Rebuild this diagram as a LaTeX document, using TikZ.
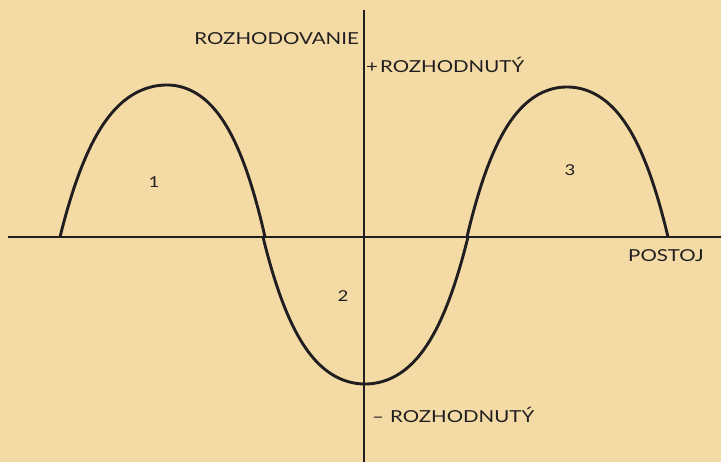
\documentclass[tikz,border=0pt]{standalone}
\usepackage{fontspec}
\setmainfont{Lato}[FakeStretch=1.24]
\usetikzlibrary{positioning}
\definecolor{paper}{RGB}{244,219,165}
\definecolor{ink}{RGB}{32,30,32}

\tikzset{
  axisline/.style={ink, line width=1.3pt},
  wave/.style={ink, line width=2.9pt, line join=round},
  axislabel/.style={font=\fontsize{16.5}{16.5}\selectfont, text=ink, inner sep=0pt},
  lobenum/.style={font=\fontsize{15}{15}\selectfont, text=ink, inner sep=0pt}
}
% lobe height profile, t in [-1,1]
\newcommand{\lobe}{(1-\x*\x)*(1+0.42*\x*\x)}

\begin{document}
\begin{tikzpicture}[x=1pt, y=-1pt]
          \fill[paper] (0,0) rectangle (721,462);
          \useasboundingbox (0,0) rectangle (721,462);
          % axes
          \coordinate (xleft) at (8,237);
          \coordinate (xright) at (721,237);
          \coordinate (ytop) at (364,10);
          \coordinate (ybottom) at (364,462);
          \draw[axisline] (xleft) -- (xright);
          \draw[axisline] (ytop) -- (ybottom);
          % the wave, three lobes
          \draw[wave, samples=120, domain=-1:1]
            plot ({167+\x*ifthenelse(\x<0,107,98)}, {237 - 152*\lobe})
            -- plot ({365+\x*ifthenelse(\x<0,102,103)}, {237 + 147*\lobe})
            -- plot ({567+\x*ifthenelse(\x<0,100,101)}, {237 - 150*\lobe});
          % labels
          \node[axislabel, anchor=base east] (decide) at (359,45) {ROZHODOVANIE};
          \node[axislabel, anchor=base west] (plus) at (366,73) {+\kern2pt ROZHODNUTÝ};
          \node[axislabel, anchor=base west] (minus) at (372,423) {–\kern6pt ROZHODNUTÝ};
          \node[axislabel, anchor=base west] (stance) at (628,262) {POSTOJ};
          \node[lobenum] (one) at (154,182) {1};
          \node[lobenum] (two) at (343,296) {2};
          \node[lobenum] (three) at (570,170) {3};
        \end{tikzpicture}
\end{document}
